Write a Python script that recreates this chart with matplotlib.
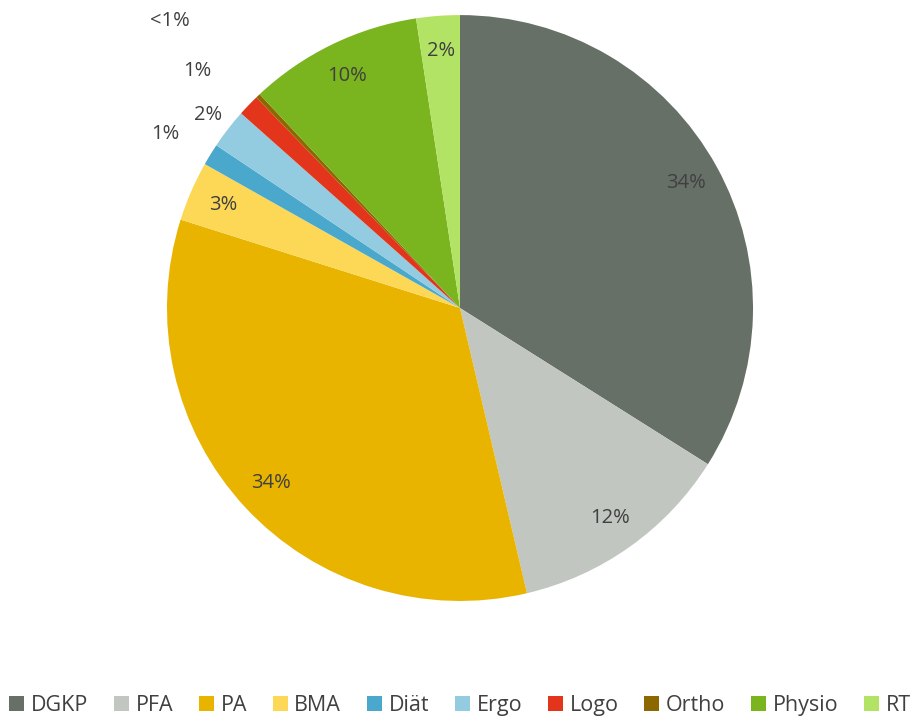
import numpy as np
import matplotlib.pyplot as plt
from matplotlib.patches import Patch

plt.rcParams['font.family'] = ['Open Sans', 'DejaVu Sans']

# Anteile je Berufsgruppe (in %)
groups = ['DGKP', 'PFA', 'PA', 'BMA', 'Diät', 'Ergo', 'Logo', 'Ortho', 'Physio', 'RT']
shares = [34.0, 12.4, 33.6, 3.3, 1.2, 2.2, 1.2, 0.25, 9.6, 2.4]
colors = ['#667067', '#c1c6c1', '#e8b400', '#fdd857', '#4aa8cc',
          '#93cbe0', '#e3351b', '#8c6900', '#7ab41e', '#b2e365']

# Beschriftungen, die außerhalb des Kreises stehen (Position in Achsenkoordinaten)
outside = {'Diät': (-1.005, 0.595), 'Ergo': (-0.86, 0.66),
           'Logo': (-0.895, 0.81), 'Ortho': (-0.99, 0.98)}

text_color = '#404040'


def pct_text(v):
    return '<1%' if v < 1 else '%d%%' % round(v)


fig = plt.figure(figsize=(9.2, 7.18), dpi=100)
ax = fig.add_axes([0.1815, 0.163, 0.637, 0.816])

wedges, _ = ax.pie(shares, colors=colors, startangle=90, counterclock=False,
                   radius=1.0, wedgeprops=dict(linewidth=0))

ax.set_xlim(-1, 1)
ax.set_ylim(-1, 1)
ax.set_aspect('auto')
ax.axis('off')

for w, g, v in zip(wedges, groups, shares):
    if g in outside:
        x, y = outside[g]
    else:
        ang = np.deg2rad((w.theta1 + w.theta2) / 2)
        r = 0.88
        x, y = r * np.cos(ang), r * np.sin(ang)
    ax.text(x, y, pct_text(v), ha='center', va='center',
            fontsize=14.5, color=text_color)

handles = [Patch(facecolor=c, edgecolor='none') for c in colors]
fig.legend(handles, groups, loc='center', bbox_to_anchor=(0.5, 0.018), ncol=10,
           frameon=False, fontsize=15.5, handlelength=0.7, handleheight=0.7,
           handletextpad=0.3, columnspacing=1.2, labelcolor=text_color)

fig.savefig('out.png', dpi=100)
